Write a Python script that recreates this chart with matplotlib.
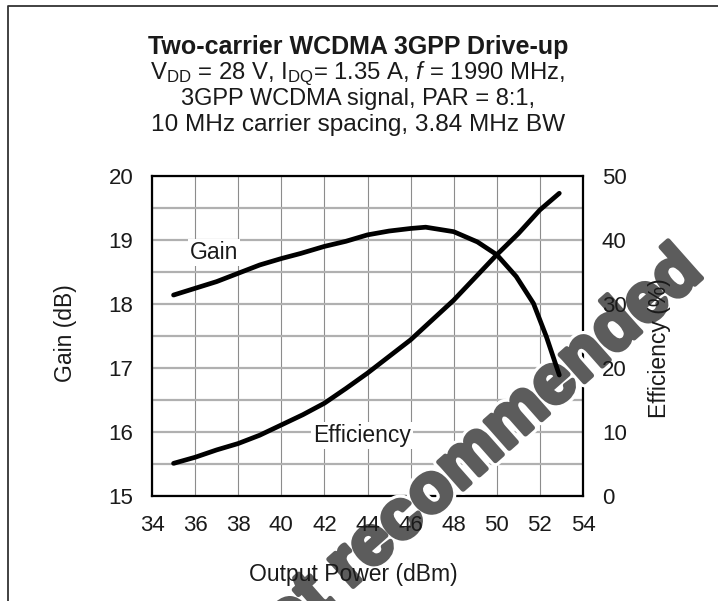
import matplotlib
matplotlib.use('Agg')
import matplotlib.pyplot as plt
import matplotlib.patheffects as pe
from matplotlib.lines import Line2D

plt.rcParams['font.family'] = ['Liberation Sans', 'DejaVu Sans']
plt.rcParams['mathtext.fontset'] = 'custom'
plt.rcParams['mathtext.rm'] = 'Liberation Sans'
plt.rcParams['mathtext.it'] = 'Liberation Sans:italic'

# ---- data ----
gain_power = [35, 37, 38, 39, 40, 40.9, 42, 43, 44, 45, 46, 46.7, 48, 49.1, 50, 50.9, 51.7, 52.3, 52.9]
gain_db = [18.14, 18.35, 18.48, 18.61, 18.71, 18.79, 18.90, 18.98, 19.08, 19.14, 19.18, 19.20,
           19.13, 18.97, 18.77, 18.43, 18.01, 17.49, 16.89]

eff_power = [35, 36, 37, 38, 39, 40, 41, 42, 43, 44, 45, 46, 47, 48, 50, 51, 52, 52.9]
eff_pct = [5.1, 6.05, 7.2, 8.2, 9.5, 11.1, 12.7, 14.5, 16.8, 19.2, 21.8, 24.4, 27.5, 30.6,
           37.7, 41.0, 44.7, 47.3]

x_ticks = [34, 36, 38, 40, 42, 44, 46, 48, 50, 52, 54]
gain_ticks = [15, 16, 17, 18, 19, 20]
eff_ticks = [0, 10, 20, 30, 40, 50]

title = 'Two-carrier WCDMA 3GPP Drive-up'
subtitle = [r'V$_{\mathrm{DD}}$ = 28 V, I$_{\mathrm{DQ}}$= 1.35 A, $f$ = 1990 MHz,',
            '3GPP WCDMA signal, PAR = 8:1,',
            '10 MHz carrier spacing, 3.84 MHz BW']
xlabel = 'Output Power (dBm)'
ylabel_left = 'Gain (dB)'
ylabel_right = 'Efficiency (%)'
watermark = 'Not recommended'

W, H = 718, 601
fig = plt.figure(figsize=(W / 100, H / 100), dpi=100)
fig.patch.set_facecolor('white')

rect = [152 / W, 1 - 496 / H, (583 - 152) / W, (496 - 176) / H]
txt = '#1a1a1a'
FS = 16

# frame around the figure
fig.add_artist(Line2D([7.5 / W, 7.5 / W, 1.0], [0.0, 1 - 5.5 / H, 1 - 5.5 / H],
                      transform=fig.transFigure, color='#333333', lw=1.3))

# titles
fig.text(358 / W, 1 - 47 / H, title, ha='center', va='center', fontsize=18,
         fontweight='bold', color=txt)
sub_sizes = [17.2, 17.0, 17.6]
for i, s in enumerate(subtitle):
    fig.text(358 / W, 1 - (74 + 25.5 * i) / H, s, ha='center', va='center',
             fontsize=sub_sizes[i], color=txt)

# background axes: grid + frame
ax1 = fig.add_axes(rect)
ax1.set_zorder(1)
ax1.set_xlim(34, 54)
ax1.set_ylim(15, 20)
ax1.set_xticks(x_ticks)
ax1.set_yticks([15 + 0.5 * k for k in range(11)])
ax1.tick_params(length=0, labelleft=False, labelbottom=False)
ax1.xaxis.grid(True, color='#8c8c8c', lw=0.8)
ax1.yaxis.grid(True, color='#b0b0b0', lw=1.6)
for sp in ax1.spines.values():
    sp.set_linewidth(1.6)
    sp.set_color('black')

# watermark
fig.text(477 / W, 1 - 477 / H, watermark, ha='center', va='baseline', rotation=41.5,
         rotation_mode='anchor', fontsize=50, fontweight='bold', color='#5c5c5c',
         zorder=1.5,
         path_effects=[pe.Stroke(linewidth=8, foreground='white'),
                       pe.Stroke(linewidth=3.5, foreground='#5c5c5c'),
                       pe.Normal()])

# foreground axes: gain curve + labels
ax3 = fig.add_axes(rect)
ax3.set_zorder(2)
ax3.patch.set_visible(False)
for sp in ax3.spines.values():
    sp.set_visible(False)
ax3.set_xlim(34, 54)
ax3.set_ylim(15, 20)
ax3.set_xticks(x_ticks)
ax3.set_yticks(gain_ticks)
ax3.tick_params(length=0, pad=13.5, labelsize=FS, labelcolor=txt)
ax3.plot(gain_power, gain_db, color='black', lw=3.4, solid_capstyle='round')
ax3.set_xlabel(xlabel, fontsize=FS + 0.5, color=txt)
ax3.xaxis.set_label_coords(0.466, -0.209)
ax3.set_ylabel(ylabel_left, fontsize=FS + 0.5, color=txt)
ax3.yaxis.set_label_coords(-0.174, 0.51)
ax3.text(35.76, 18.8, 'Gain', ha='left', va='center', fontsize=FS + 0.5, color=txt,
         bbox=dict(facecolor='white', edgecolor='none', pad=1.5))
ax3.text(41.47, 15.95, 'Efficiency', ha='left', va='center', fontsize=FS + 0.5, color=txt,
         bbox=dict(facecolor='white', edgecolor='none', pad=1.5))

ax4 = ax3.twinx()
ax4.set_zorder(3)
ax4.patch.set_visible(False)
for sp in ax4.spines.values():
    sp.set_visible(False)
ax4.set_ylim(0, 50)
ax4.set_yticks(eff_ticks)
ax4.tick_params(length=0, pad=13.5, labelsize=FS, labelcolor=txt)
ax4.plot(eff_power, eff_pct, color='black', lw=3.4, solid_capstyle='round')
ax4.set_ylabel(ylabel_right, fontsize=FS + 0.5, color=txt)
ax4.yaxis.set_label_coords(1.151, 0.463)

fig.savefig('out.png', dpi=100)
